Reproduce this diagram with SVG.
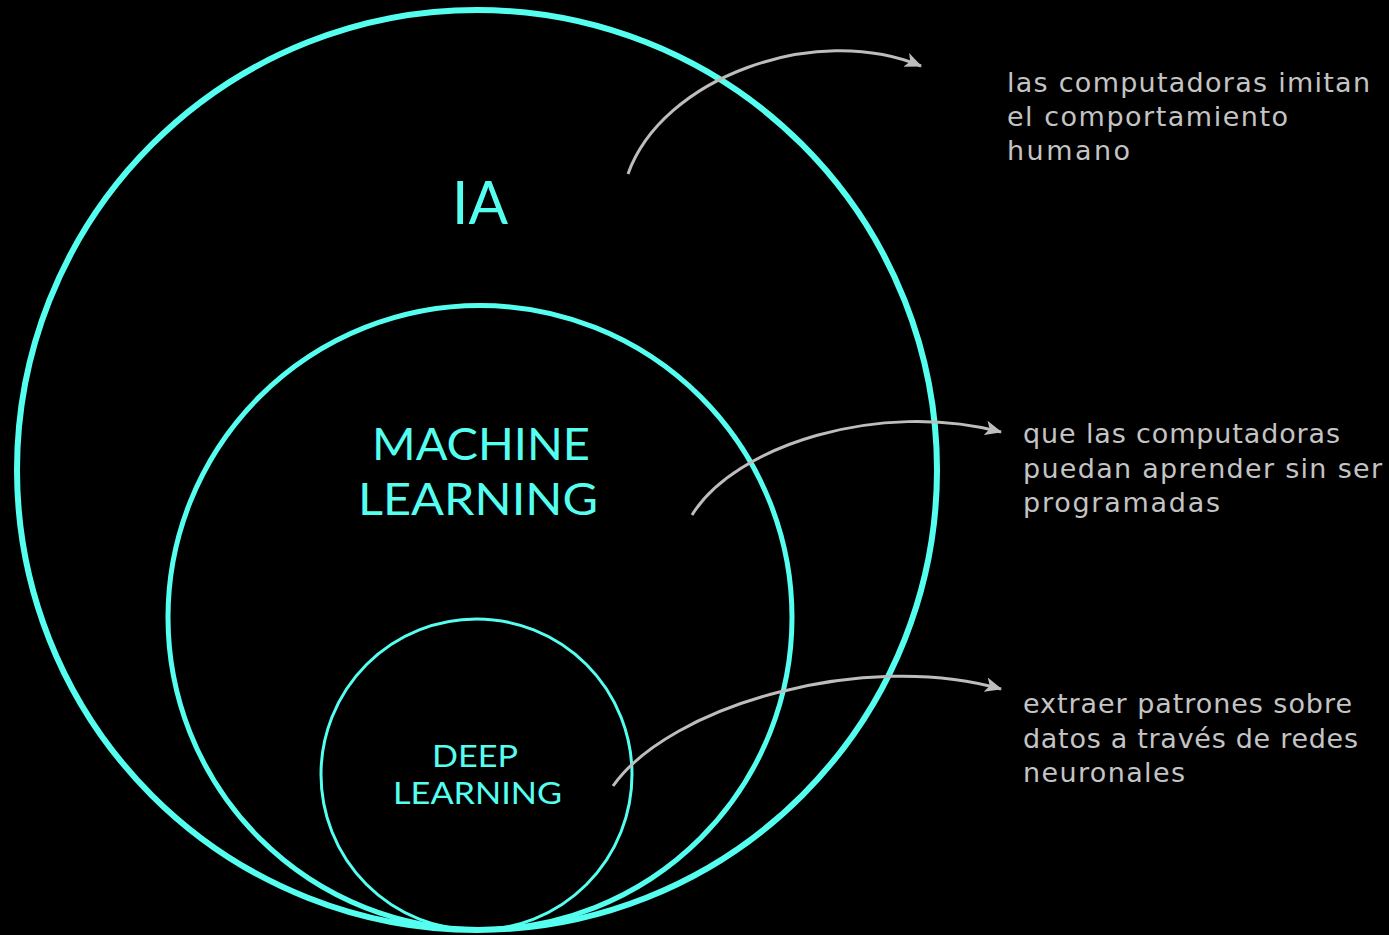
<svg xmlns="http://www.w3.org/2000/svg" width="1389" height="935" viewBox="0 0 1389 935">
<defs>
<style>
.ring{fill:none;stroke:#55fff0}
.lbl{fill:#55fff0;font-family:Lato,"Noto Sans",sans-serif;font-weight:400;text-anchor:start}
.desc{fill:#c4c4c4;font-family:"DejaVu Sans","Noto Sans",sans-serif;font-size:27px}
.conn{fill:none;stroke:#bdbdbd;stroke-width:3;marker-end:url(#ah)}
</style>
<marker id="ah" viewBox="0 0 16 14" refX="15" refY="7" markerWidth="17" markerHeight="15" markerUnits="userSpaceOnUse" orient="auto">
<path d="M0,0 L16,7 L0,14 L4,7 z" fill="#bdbdbd"/>
</marker>
</defs>
<rect width="1389" height="935" fill="#000"/>
<g id="ia">
<circle class="ring" cx="477" cy="470" r="460" stroke-width="6"/>
<text class="lbl" x="452" y="224" font-size="60" textLength="56" lengthAdjust="spacingAndGlyphs">IA</text>
</g>
<g id="ml">
<circle class="ring" cx="480" cy="617.5" r="312" stroke-width="5"/>
<text class="lbl" x="372" y="460" font-size="45" textLength="218" lengthAdjust="spacingAndGlyphs">MACHINE</text>
<text class="lbl" x="358" y="515" font-size="45" textLength="240" lengthAdjust="spacingAndGlyphs">LEARNING</text>
</g>
<g id="dl">
<circle class="ring" cx="476.5" cy="774.5" r="155.5" stroke-width="3"/>
<text class="lbl" x="432" y="767" font-size="30" textLength="86" lengthAdjust="spacingAndGlyphs">DEEP</text>
<text class="lbl" x="393" y="804" font-size="30" textLength="169" lengthAdjust="spacingAndGlyphs">LEARNING</text>
</g>
<g id="desc-ia">
<text class="desc" x="1007" y="92" textLength="363" lengthAdjust="spacing">las computadoras imitan</text>
<text class="desc" x="1007" y="126" textLength="281" lengthAdjust="spacing">el comportamiento</text>
<text class="desc" x="1007" y="160" textLength="123" lengthAdjust="spacing">humano</text>
</g>
<g id="desc-ml">
<text class="desc" x="1023" y="443" textLength="317" lengthAdjust="spacing">que las computadoras</text>
<text class="desc" x="1023" y="478" textLength="359" lengthAdjust="spacing">puedan aprender sin ser</text>
<text class="desc" x="1023" y="512" textLength="197" lengthAdjust="spacing">programadas</text>
</g>
<g id="desc-dl">
<text class="desc" x="1023" y="713" textLength="329" lengthAdjust="spacing">extraer patrones sobre</text>
<text class="desc" x="1023" y="748" textLength="335" lengthAdjust="spacing">datos a través de redes</text>
<text class="desc" x="1023" y="782" textLength="162" lengthAdjust="spacing">neuronales</text>
</g>
<g id="connectors">
<path class="conn" d="M628,174 C662,78 815,22 921,66"/>
<path class="conn" d="M692,515 C735,445 880,400 1001,432"/>
<path class="conn" d="M613,786 C670,705 865,650 1001,689"/>
</g>
</svg>
